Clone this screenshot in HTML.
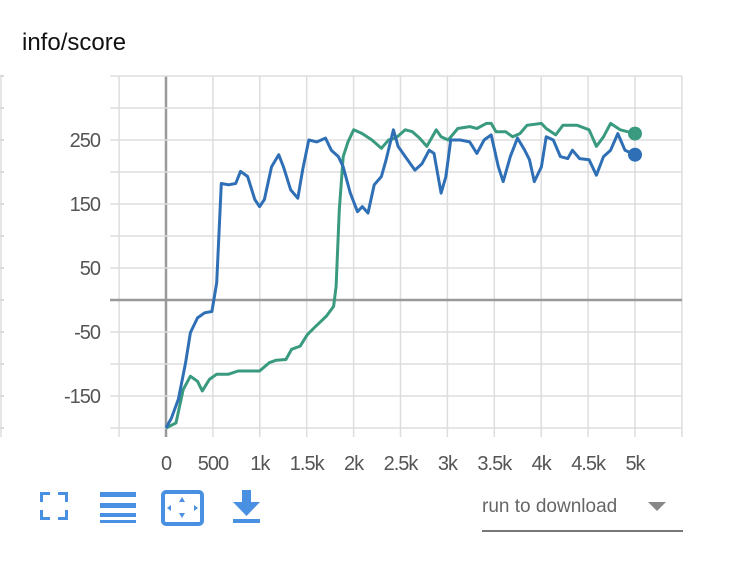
<!DOCTYPE html>
<html><head><meta charset="utf-8"><style>
body{margin:0;background:#fff;width:748px;height:560px;overflow:hidden;font-family:"Liberation Sans",sans-serif;}
</style></head><body>
<svg width="748" height="560">
<text x="22" y="50" font-size="24" fill="#111">info/score</text>
<g id="grid"></g><g id="series"></g><g id="labels"></g>
<g>
 <g fill="#4a90e2">
  <rect x="40" y="492" width="3" height="10"/><rect x="40" y="492" width="10" height="3"/>
  <rect x="65" y="492" width="3" height="10"/><rect x="58" y="492" width="10" height="3"/>
  <rect x="40" y="510" width="3" height="10"/><rect x="40" y="517" width="10" height="3"/>
  <rect x="65" y="510" width="3" height="10"/><rect x="58" y="517" width="10" height="3"/>
 </g>
 <g fill="#4a90e2">
  <rect x="100" y="492" width="36" height="5"/><rect x="100" y="503" width="36" height="5"/><rect x="100" y="513" width="36" height="4"/><rect x="100" y="520" width="36" height="3"/>
 </g>
 <g>
  <rect x="163" y="492" width="39" height="32" rx="3" fill="none" stroke="#4a90e2" stroke-width="4"/>
  <polygon points="182,497 179,502 185,502" fill="#4a90e2"/><polygon points="182,518 179,513 185,513" fill="#4a90e2"/>
  <polygon points="167,508 171,505 171,511" fill="#4a90e2"/><polygon points="198,508 194,505 194,511" fill="#4a90e2"/>
 </g>
 <g fill="#4a90e2">
  <rect x="242" y="490" width="9" height="12"/><polygon points="233,502 260,502 246.5,516"/><rect x="233" y="519" width="27" height="4"/>
 </g>
</g>
<g>
 <text x="482" y="512" font-size="19" fill="#666">run to download</text>
 <polygon points="648,502 666,502 657,511" fill="#888"/>
 <rect x="482" y="530" width="201" height="2" fill="#777"/>
</g>
</svg>
<script>
const xTicks=[0,500,1000,1500,2000,2500,3000,3500,4000,4500,5000];
const xTickLabels=["0","500","1k","1.5k","2k","2.5k","3k","3.5k","4k","4.5k","5k"];
const yTicks=[250,150,50,-50,-150];
const blueSteps=[0,56,132,209,260,336,412,489,540,590,667,743,794,870,947,998,1049,1125,1202,1253,1329,1405,1456,1522,1609,1700,1762,1838,1889,1965,2042,2093,2154,2220,2296,2347,2424,2474,2551,2653,2729,2806,2857,2933,2984,3035,3136,3238,3315,3391,3467,3544,3595,3671,3747,3824,3875,3926,4002,4053,4129,4205,4282,4333,4409,4511,4588,4664,4740,4817,4893,5000];
const blueValues=[-200,-185,-155,-98,-51,-28,-20,-18,27,182,180,182,201,193,157,146,157,208,227,208,172,159,203,250,247,253,234,224,208,167,138,146,136,180,193,219,266,240,224,203,213,234,229,167,193,250,250,247,229,250,258,208,185,224,253,234,219,185,208,255,250,224,221,234,221,219,195,224,234,260,234,227];
const greenSteps=[0,107,183,260,336,387,463,540,667,769,998,1100,1176,1278,1339,1431,1507,1583,1711,1787,1813,1848,1889,1940,2001,2093,2195,2296,2373,2449,2551,2627,2704,2780,2882,2933,3009,3111,3238,3315,3416,3467,3518,3620,3696,3773,3849,4002,4053,4155,4231,4384,4511,4588,4664,4740,4842,5000];
const greenValues=[-200,-192,-140,-119,-127,-142,-124,-116,-116,-111,-111,-98,-94,-93,-77,-72,-54,-43,-25,-10,21,141,224,247,266,260,250,237,250,253,266,263,253,240,266,255,250,268,271,268,276,276,263,263,255,260,273,276,268,258,273,273,266,240,255,276,266,260];
const X=v=>166+v*(635-166)/5000;
const Y=v=>300-v*(300-140)/250;
const ns="http://www.w3.org/2000/svg";
function mk(tag,attrs,parent){const e=document.createElementNS(ns,tag);for(const k in attrs)e.setAttribute(k,attrs[k]);document.getElementById(parent).appendChild(e);return e;}
const grid="grid";
// vertical grid every 500 from -500 to 5500
for(let v=-500;v<=5500;v+=500){
 const l=mk('line',{x1:X(v),x2:X(v),y1:76,y2:437,stroke:v===0?'#999':'#ddd','stroke-width':v===0?2.5:1.5},grid);
 
 
}
for(let v=-200;v<=350;v+=50){
 const l=mk('line',{x1:v===-200?110:110,x2:682,y1:Y(v),y2:Y(v),stroke:v===0?'#999':'#ddd','stroke-width':v===0?2.5:1.5},grid);
 
 
 const t=mk('line',{x1:0,x2:4,y1:Y(v),y2:Y(v),stroke:'#ccc','stroke-width':1.5},grid);
 
 
}
const ax=mk('line',{x1:1,x2:1,y1:76,y2:437,stroke:'#ddd','stroke-width':1.5},grid);


xTicks.forEach((v,i)=>{
 const t=mk('text',{x:X(v),y:470,'font-size':20,fill:'#555','text-anchor':'middle','letter-spacing':'-1'},'labels');
 t.textContent=xTickLabels[i];
 
 
});
yTicks.forEach(v=>{
 const t=mk('text',{x:100,y:Y(v)+7,'font-size':20,fill:'#555','text-anchor':'end','letter-spacing':'-1'},'labels');
 t.textContent=String(v);
 
 
});
function series(steps,vals,color,name){
 const d=steps.map((s,i)=>(i?'L':'M')+X(s).toFixed(1)+','+Y(vals[i]).toFixed(1)).join('');
 const p=mk('path',{d:d,fill:'none',stroke:color,'stroke-width':3,'stroke-linejoin':'round'},'series');
 
 
 const n=steps.length-1;
 const c=mk('circle',{cx:X(steps[n]),cy:Y(vals[n]),r:7,fill:color},'series');
 
 
}
series(greenSteps,greenValues,'#3a9a80','green-run');
series(blueSteps,blueValues,'#2f6fb5','blue-run');
</script>
</body></html>
